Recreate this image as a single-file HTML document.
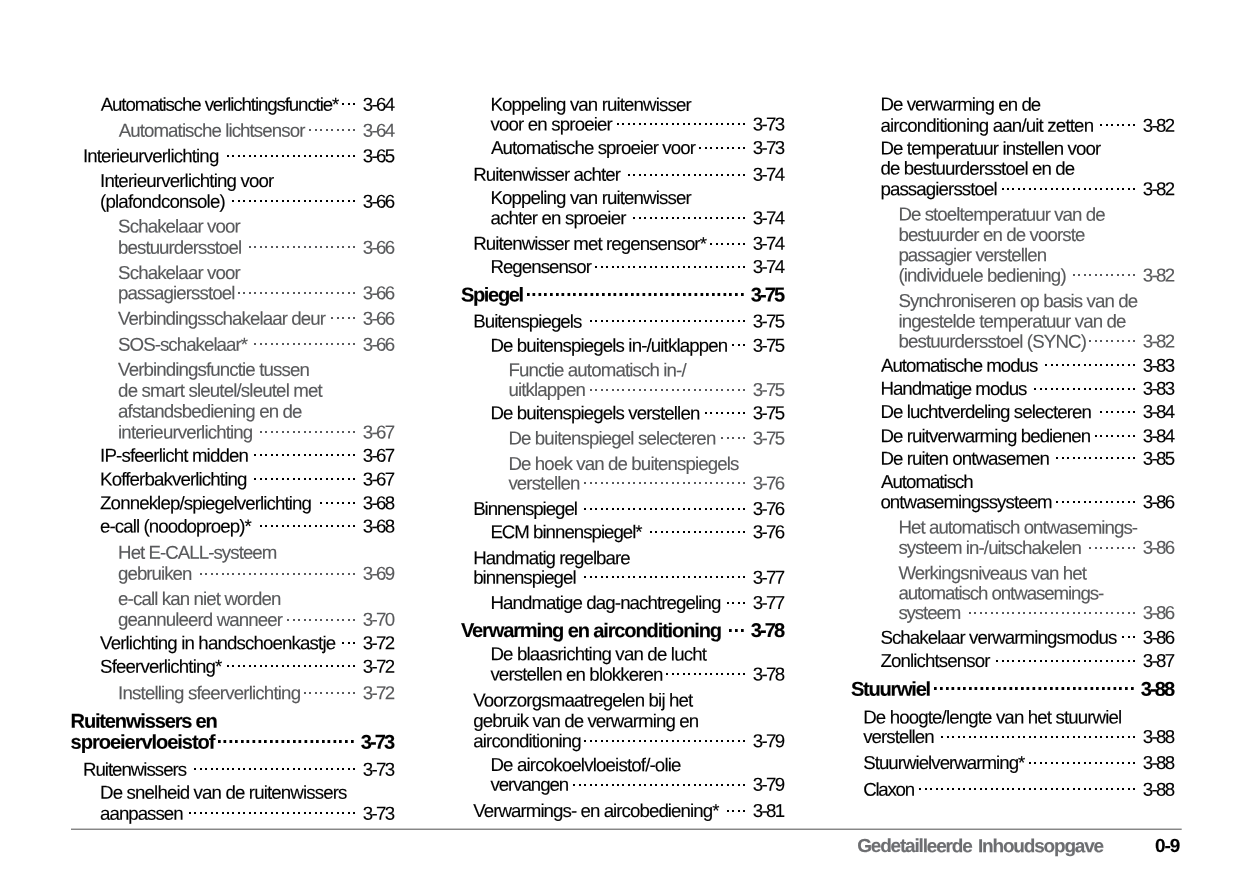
<!DOCTYPE html>
<html><head><meta charset="utf-8"><title>Gedetailleerde Inhoudsopgave</title>
<style>
html,body{margin:0;padding:0;background:#fff;}
body{width:1241px;height:886px;overflow:hidden;}
svg{display:block;font-family:"Liberation Sans",sans-serif;will-change:transform;}
text{white-space:pre;stroke-width:0.12px;paint-order:stroke fill;}
</style></head><body>
<svg width="1241" height="886" viewBox="0 0 1241 886">
<text transform="matrix(1 0.0005 0 1 0 -0.0503)" x="100.70" y="110.75" font-size="18.7" letter-spacing="-1.113" fill="#000000" stroke="#000000">Automatische verlichtingsfunctie*</text>
<text transform="matrix(1 0.0005 0 1 0 -0.1814)" x="362.80" y="110.75" font-size="18.7" letter-spacing="-1.667" fill="#000000" stroke="#000000">3-64</text>
<path d="M353 103h2v2h-2zM348 103h2v2h-2zM342 103h2v2h-2z" fill="#000000"/>
<text transform="matrix(1 0.0005 0 1 0 -0.0593)" x="118.70" y="136.75" font-size="18.7" letter-spacing="-0.915" fill="#58595b" stroke="#58595b">Automatische lichtsensor</text>
<text transform="matrix(1 0.0005 0 1 0 -0.1814)" x="362.80" y="136.75" font-size="18.7" letter-spacing="-1.667" fill="#58595b" stroke="#58595b">3-64</text>
<path d="M353 129h2v2h-2zM348 129h2v2h-2zM342 129h2v2h-2zM337 129h2v2h-2zM331 129h2v2h-2zM326 129h2v2h-2zM320 129h2v2h-2zM315 129h2v2h-2zM309 129h2v2h-2z" fill="#58595b"/>
<text transform="matrix(1 0.0005 0 1 0 -0.0415)" x="82.90" y="162.25" font-size="18.7" letter-spacing="-0.857" fill="#000000" stroke="#000000">Interieurverlichting</text>
<text transform="matrix(1 0.0005 0 1 0 -0.1814)" x="362.80" y="162.25" font-size="18.7" letter-spacing="-1.667" fill="#000000" stroke="#000000">3-65</text>
<path d="M353 155h2v2h-2zM348 155h2v2h-2zM342 155h2v2h-2zM337 155h2v2h-2zM331 155h2v2h-2zM326 155h2v2h-2zM320 155h2v2h-2zM315 155h2v2h-2zM309 155h2v2h-2zM304 155h2v2h-2zM298 155h2v2h-2zM293 155h2v2h-2zM287 155h2v2h-2zM282 155h2v2h-2zM276 155h2v2h-2zM271 155h2v2h-2zM265 155h2v2h-2zM260 155h2v2h-2zM254 155h2v2h-2zM249 155h2v2h-2zM243 155h2v2h-2zM238 155h2v2h-2zM232 155h2v2h-2zM227 155h2v2h-2z" fill="#000000"/>
<text transform="matrix(1 0.0005 0 1 0 -0.0500)" x="100.10" y="186.90" font-size="18.7" letter-spacing="-0.833" fill="#000000" stroke="#000000">Interieurverlichting voor</text>
<text transform="matrix(1 0.0005 0 1 0 -0.0500)" x="100.10" y="207.75" font-size="18.7" letter-spacing="-0.839" fill="#000000" stroke="#000000">(plafondconsole)</text>
<text transform="matrix(1 0.0005 0 1 0 -0.1814)" x="362.80" y="207.75" font-size="18.7" letter-spacing="-1.667" fill="#000000" stroke="#000000">3-66</text>
<path d="M353 200h2v2h-2zM348 200h2v2h-2zM342 200h2v2h-2zM337 200h2v2h-2zM331 200h2v2h-2zM326 200h2v2h-2zM320 200h2v2h-2zM315 200h2v2h-2zM309 200h2v2h-2zM304 200h2v2h-2zM298 200h2v2h-2zM293 200h2v2h-2zM287 200h2v2h-2zM282 200h2v2h-2zM276 200h2v2h-2zM271 200h2v2h-2zM265 200h2v2h-2zM260 200h2v2h-2zM254 200h2v2h-2zM249 200h2v2h-2zM243 200h2v2h-2zM238 200h2v2h-2zM232 200h2v2h-2z" fill="#000000"/>
<text transform="matrix(1 0.0005 0 1 0 -0.0590)" x="118.10" y="232.55" font-size="18.7" letter-spacing="-0.886" fill="#58595b" stroke="#58595b">Schakelaar voor</text>
<text transform="matrix(1 0.0005 0 1 0 -0.0590)" x="118.10" y="253.65" font-size="18.7" letter-spacing="-0.939" fill="#58595b" stroke="#58595b">bestuurdersstoel</text>
<text transform="matrix(1 0.0005 0 1 0 -0.1814)" x="362.80" y="253.65" font-size="18.7" letter-spacing="-1.667" fill="#58595b" stroke="#58595b">3-66</text>
<path d="M353 246h2v2h-2zM348 246h2v2h-2zM342 246h2v2h-2zM337 246h2v2h-2zM331 246h2v2h-2zM326 246h2v2h-2zM320 246h2v2h-2zM315 246h2v2h-2zM309 246h2v2h-2zM304 246h2v2h-2zM298 246h2v2h-2zM293 246h2v2h-2zM287 246h2v2h-2zM282 246h2v2h-2zM276 246h2v2h-2zM271 246h2v2h-2zM265 246h2v2h-2zM260 246h2v2h-2zM254 246h2v2h-2zM249 246h2v2h-2z" fill="#58595b"/>
<text transform="matrix(1 0.0005 0 1 0 -0.0590)" x="118.10" y="278.95" font-size="18.7" letter-spacing="-0.886" fill="#58595b" stroke="#58595b">Schakelaar voor</text>
<text transform="matrix(1 0.0005 0 1 0 -0.0590)" x="118.10" y="299.25" font-size="18.7" letter-spacing="-0.890" fill="#58595b" stroke="#58595b">passagiersstoel</text>
<text transform="matrix(1 0.0005 0 1 0 -0.1814)" x="362.80" y="299.25" font-size="18.7" letter-spacing="-1.667" fill="#58595b" stroke="#58595b">3-66</text>
<path d="M353 292h2v2h-2zM348 292h2v2h-2zM342 292h2v2h-2zM337 292h2v2h-2zM331 292h2v2h-2zM326 292h2v2h-2zM320 292h2v2h-2zM315 292h2v2h-2zM309 292h2v2h-2zM304 292h2v2h-2zM298 292h2v2h-2zM293 292h2v2h-2zM287 292h2v2h-2zM282 292h2v2h-2zM276 292h2v2h-2zM271 292h2v2h-2zM265 292h2v2h-2zM260 292h2v2h-2zM254 292h2v2h-2zM249 292h2v2h-2zM243 292h2v2h-2zM238 292h2v2h-2z" fill="#58595b"/>
<text transform="matrix(1 0.0005 0 1 0 -0.0590)" x="118.10" y="324.75" font-size="18.7" letter-spacing="-0.910" fill="#58595b" stroke="#58595b">Verbindingsschakelaar deur</text>
<text transform="matrix(1 0.0005 0 1 0 -0.1814)" x="362.80" y="324.75" font-size="18.7" letter-spacing="-1.667" fill="#58595b" stroke="#58595b">3-66</text>
<path d="M353 317h2v2h-2zM348 317h2v2h-2zM342 317h2v2h-2zM337 317h2v2h-2zM331 317h2v2h-2z" fill="#58595b"/>
<text transform="matrix(1 0.0005 0 1 0 -0.0590)" x="118.10" y="350.70" font-size="18.7" letter-spacing="-0.959" fill="#58595b" stroke="#58595b">SOS-schakelaar*</text>
<text transform="matrix(1 0.0005 0 1 0 -0.1814)" x="362.80" y="350.70" font-size="18.7" letter-spacing="-1.667" fill="#58595b" stroke="#58595b">3-66</text>
<path d="M353 343h2v2h-2zM348 343h2v2h-2zM342 343h2v2h-2zM337 343h2v2h-2zM331 343h2v2h-2zM326 343h2v2h-2zM320 343h2v2h-2zM315 343h2v2h-2zM309 343h2v2h-2zM304 343h2v2h-2zM298 343h2v2h-2zM293 343h2v2h-2zM287 343h2v2h-2zM282 343h2v2h-2zM276 343h2v2h-2zM271 343h2v2h-2zM265 343h2v2h-2zM260 343h2v2h-2zM254 343h2v2h-2z" fill="#58595b"/>
<text transform="matrix(1 0.0005 0 1 0 -0.0590)" x="118.10" y="375.80" font-size="18.7" letter-spacing="-0.887" fill="#58595b" stroke="#58595b">Verbindingsfunctie tussen</text>
<text transform="matrix(1 0.0005 0 1 0 -0.0590)" x="118.10" y="396.70" font-size="18.7" letter-spacing="-0.844" fill="#58595b" stroke="#58595b">de smart sleutel/sleutel met</text>
<text transform="matrix(1 0.0005 0 1 0 -0.0590)" x="118.10" y="417.55" font-size="18.7" letter-spacing="-0.879" fill="#58595b" stroke="#58595b">afstandsbediening en de</text>
<text transform="matrix(1 0.0005 0 1 0 -0.0590)" x="118.10" y="438.40" font-size="18.7" letter-spacing="-0.871" fill="#58595b" stroke="#58595b">interieurverlichting</text>
<text transform="matrix(1 0.0005 0 1 0 -0.1814)" x="362.80" y="438.40" font-size="18.7" letter-spacing="-1.667" fill="#58595b" stroke="#58595b">3-67</text>
<path d="M353 431h2v2h-2zM348 431h2v2h-2zM342 431h2v2h-2zM337 431h2v2h-2zM331 431h2v2h-2zM326 431h2v2h-2zM320 431h2v2h-2zM315 431h2v2h-2zM309 431h2v2h-2zM304 431h2v2h-2zM298 431h2v2h-2zM293 431h2v2h-2zM287 431h2v2h-2zM282 431h2v2h-2zM276 431h2v2h-2zM271 431h2v2h-2zM265 431h2v2h-2zM260 431h2v2h-2z" fill="#58595b"/>
<text transform="matrix(1 0.0005 0 1 0 -0.0500)" x="100.10" y="461.70" font-size="18.7" letter-spacing="-0.859" fill="#000000" stroke="#000000">IP-sfeerlicht midden</text>
<text transform="matrix(1 0.0005 0 1 0 -0.1814)" x="362.80" y="461.70" font-size="18.7" letter-spacing="-1.667" fill="#000000" stroke="#000000">3-67</text>
<path d="M353 454h2v2h-2zM348 454h2v2h-2zM342 454h2v2h-2zM337 454h2v2h-2zM331 454h2v2h-2zM326 454h2v2h-2zM320 454h2v2h-2zM315 454h2v2h-2zM309 454h2v2h-2zM304 454h2v2h-2zM298 454h2v2h-2zM293 454h2v2h-2zM287 454h2v2h-2zM282 454h2v2h-2zM276 454h2v2h-2zM271 454h2v2h-2zM265 454h2v2h-2zM260 454h2v2h-2zM254 454h2v2h-2z" fill="#000000"/>
<text transform="matrix(1 0.0005 0 1 0 -0.0500)" x="100.10" y="485.55" font-size="18.7" letter-spacing="-0.869" fill="#000000" stroke="#000000">Kofferbakverlichting</text>
<text transform="matrix(1 0.0005 0 1 0 -0.1814)" x="362.80" y="485.55" font-size="18.7" letter-spacing="-1.667" fill="#000000" stroke="#000000">3-67</text>
<path d="M353 478h2v2h-2zM348 478h2v2h-2zM342 478h2v2h-2zM337 478h2v2h-2zM331 478h2v2h-2zM326 478h2v2h-2zM320 478h2v2h-2zM315 478h2v2h-2zM309 478h2v2h-2zM304 478h2v2h-2zM298 478h2v2h-2zM293 478h2v2h-2zM287 478h2v2h-2zM282 478h2v2h-2zM276 478h2v2h-2zM271 478h2v2h-2zM265 478h2v2h-2zM260 478h2v2h-2zM254 478h2v2h-2z" fill="#000000"/>
<text transform="matrix(1 0.0005 0 1 0 -0.0500)" x="100.10" y="509.35" font-size="18.7" letter-spacing="-0.885" fill="#000000" stroke="#000000">Zonneklep/spiegelverlichting</text>
<text transform="matrix(1 0.0005 0 1 0 -0.1814)" x="362.80" y="509.35" font-size="18.7" letter-spacing="-1.667" fill="#000000" stroke="#000000">3-68</text>
<path d="M353 502h2v2h-2zM348 502h2v2h-2zM342 502h2v2h-2zM337 502h2v2h-2zM331 502h2v2h-2zM326 502h2v2h-2zM320 502h2v2h-2z" fill="#000000"/>
<text transform="matrix(1 0.0005 0 1 0 -0.0500)" x="100.10" y="532.55" font-size="18.7" letter-spacing="-0.927" fill="#000000" stroke="#000000">e-call (noodoproep)*</text>
<text transform="matrix(1 0.0005 0 1 0 -0.1814)" x="362.80" y="532.55" font-size="18.7" letter-spacing="-1.667" fill="#000000" stroke="#000000">3-68</text>
<path d="M353 525h2v2h-2zM348 525h2v2h-2zM342 525h2v2h-2zM337 525h2v2h-2zM331 525h2v2h-2zM326 525h2v2h-2zM320 525h2v2h-2zM315 525h2v2h-2zM309 525h2v2h-2zM304 525h2v2h-2zM298 525h2v2h-2zM293 525h2v2h-2zM287 525h2v2h-2zM282 525h2v2h-2zM276 525h2v2h-2zM271 525h2v2h-2zM265 525h2v2h-2zM260 525h2v2h-2z" fill="#000000"/>
<text transform="matrix(1 0.0005 0 1 0 -0.0590)" x="118.10" y="558.65" font-size="18.7" letter-spacing="-0.958" fill="#58595b" stroke="#58595b">Het E-CALL-systeem</text>
<text transform="matrix(1 0.0005 0 1 0 -0.0590)" x="118.10" y="579.85" font-size="18.7" letter-spacing="-0.974" fill="#58595b" stroke="#58595b">gebruiken</text>
<text transform="matrix(1 0.0005 0 1 0 -0.1814)" x="362.80" y="579.85" font-size="18.7" letter-spacing="-1.667" fill="#58595b" stroke="#58595b">3-69</text>
<path d="M353 573h2v2h-2zM348 573h2v2h-2zM342 573h2v2h-2zM337 573h2v2h-2zM331 573h2v2h-2zM326 573h2v2h-2zM320 573h2v2h-2zM315 573h2v2h-2zM309 573h2v2h-2zM304 573h2v2h-2zM298 573h2v2h-2zM293 573h2v2h-2zM287 573h2v2h-2zM282 573h2v2h-2zM276 573h2v2h-2zM271 573h2v2h-2zM265 573h2v2h-2zM260 573h2v2h-2zM254 573h2v2h-2zM249 573h2v2h-2zM243 573h2v2h-2zM238 573h2v2h-2zM232 573h2v2h-2zM227 573h2v2h-2zM222 573h2v2h-2zM216 573h2v2h-2zM211 573h2v2h-2zM205 573h2v2h-2zM200 573h2v2h-2z" fill="#58595b"/>
<text transform="matrix(1 0.0005 0 1 0 -0.0590)" x="118.10" y="605.05" font-size="18.7" letter-spacing="-0.883" fill="#58595b" stroke="#58595b">e-call kan niet worden</text>
<text transform="matrix(1 0.0005 0 1 0 -0.0590)" x="118.10" y="625.85" font-size="18.7" letter-spacing="-0.879" fill="#58595b" stroke="#58595b">geannuleerd wanneer</text>
<text transform="matrix(1 0.0005 0 1 0 -0.1814)" x="362.80" y="625.85" font-size="18.7" letter-spacing="-1.667" fill="#58595b" stroke="#58595b">3-70</text>
<path d="M353 619h2v2h-2zM348 619h2v2h-2zM342 619h2v2h-2zM337 619h2v2h-2zM331 619h2v2h-2zM326 619h2v2h-2zM320 619h2v2h-2zM315 619h2v2h-2zM309 619h2v2h-2zM304 619h2v2h-2zM298 619h2v2h-2zM293 619h2v2h-2zM287 619h2v2h-2z" fill="#58595b"/>
<text transform="matrix(1 0.0005 0 1 0 -0.0500)" x="100.10" y="649.15" font-size="18.7" letter-spacing="-0.860" fill="#000000" stroke="#000000">Verlichting in handschoenkastje</text>
<text transform="matrix(1 0.0005 0 1 0 -0.1814)" x="362.80" y="649.15" font-size="18.7" letter-spacing="-1.667" fill="#000000" stroke="#000000">3-72</text>
<path d="M353 642h2v2h-2zM348 642h2v2h-2zM342 642h2v2h-2z" fill="#000000"/>
<text transform="matrix(1 0.0005 0 1 0 -0.0500)" x="100.10" y="672.65" font-size="18.7" letter-spacing="-0.871" fill="#000000" stroke="#000000">Sfeerverlichting*</text>
<text transform="matrix(1 0.0005 0 1 0 -0.1814)" x="362.80" y="672.65" font-size="18.7" letter-spacing="-1.667" fill="#000000" stroke="#000000">3-72</text>
<path d="M353 665h2v2h-2zM348 665h2v2h-2zM342 665h2v2h-2zM337 665h2v2h-2zM331 665h2v2h-2zM326 665h2v2h-2zM320 665h2v2h-2zM315 665h2v2h-2zM309 665h2v2h-2zM304 665h2v2h-2zM298 665h2v2h-2zM293 665h2v2h-2zM287 665h2v2h-2zM282 665h2v2h-2zM276 665h2v2h-2zM271 665h2v2h-2zM265 665h2v2h-2zM260 665h2v2h-2zM254 665h2v2h-2zM249 665h2v2h-2zM243 665h2v2h-2zM238 665h2v2h-2zM232 665h2v2h-2zM227 665h2v2h-2z" fill="#000000"/>
<text transform="matrix(1 0.0005 0 1 0 -0.0590)" x="118.10" y="699.25" font-size="18.7" letter-spacing="-0.833" fill="#58595b" stroke="#58595b">Instelling sfeerverlichting</text>
<text transform="matrix(1 0.0005 0 1 0 -0.1814)" x="362.80" y="699.25" font-size="18.7" letter-spacing="-1.667" fill="#58595b" stroke="#58595b">3-72</text>
<path d="M353 692h2v2h-2zM348 692h2v2h-2zM342 692h2v2h-2zM337 692h2v2h-2zM331 692h2v2h-2zM326 692h2v2h-2zM320 692h2v2h-2zM315 692h2v2h-2zM309 692h2v2h-2zM304 692h2v2h-2z" fill="#58595b"/>
<text transform="matrix(1 0.0005 0 1 0 -0.0353)" x="70.60" y="727.75" font-size="20.1" letter-spacing="-1.201" fill="#000000" stroke="#000000" font-weight="bold">Ruitenwissers en</text>
<text transform="matrix(1 0.0005 0 1 0 -0.0353)" x="70.60" y="748.70" font-size="20.1" letter-spacing="-1.063" fill="#000000" stroke="#000000" font-weight="bold">sproeiervloeistof</text>
<text transform="matrix(1 0.0005 0 1 0 -0.1804)" x="360.75" y="748.70" font-size="20.1" letter-spacing="-1.967" fill="#000000" stroke="#000000" font-weight="bold">3-73</text>
<path d="M351 740h2.7v3h-2.7zM345 740h2.7v3h-2.7zM339 740h2.7v3h-2.7zM333.5 740h2.7v3h-2.7zM327.5 740h2.7v3h-2.7zM322 740h2.7v3h-2.7zM316 740h2.7v3h-2.7zM310.5 740h2.7v3h-2.7zM304.5 740h2.7v3h-2.7zM298.5 740h2.7v3h-2.7zM293 740h2.7v3h-2.7zM287 740h2.7v3h-2.7zM281.5 740h2.7v3h-2.7zM275.5 740h2.7v3h-2.7zM270 740h2.7v3h-2.7zM264 740h2.7v3h-2.7zM258.5 740h2.7v3h-2.7zM252.5 740h2.7v3h-2.7zM246.5 740h2.7v3h-2.7zM241 740h2.7v3h-2.7zM235 740h2.7v3h-2.7zM229.5 740h2.7v3h-2.7zM223.5 740h2.7v3h-2.7zM218 740h2.7v3h-2.7z" fill="#000000"/>
<text transform="matrix(1 0.0005 0 1 0 -0.0415)" x="82.90" y="775.65" font-size="18.7" letter-spacing="-1.009" fill="#000000" stroke="#000000">Ruitenwissers</text>
<text transform="matrix(1 0.0005 0 1 0 -0.1814)" x="362.80" y="775.65" font-size="18.7" letter-spacing="-1.667" fill="#000000" stroke="#000000">3-73</text>
<path d="M353 768h2v2h-2zM348 768h2v2h-2zM342 768h2v2h-2zM337 768h2v2h-2zM331 768h2v2h-2zM326 768h2v2h-2zM320 768h2v2h-2zM315 768h2v2h-2zM309 768h2v2h-2zM304 768h2v2h-2zM298 768h2v2h-2zM293 768h2v2h-2zM287 768h2v2h-2zM282 768h2v2h-2zM276 768h2v2h-2zM271 768h2v2h-2zM265 768h2v2h-2zM260 768h2v2h-2zM254 768h2v2h-2zM249 768h2v2h-2zM243 768h2v2h-2zM238 768h2v2h-2zM232 768h2v2h-2zM227 768h2v2h-2zM222 768h2v2h-2zM216 768h2v2h-2zM211 768h2v2h-2zM205 768h2v2h-2zM200 768h2v2h-2zM194 768h2v2h-2z" fill="#000000"/>
<text transform="matrix(1 0.0005 0 1 0 -0.0500)" x="100.10" y="798.75" font-size="18.7" letter-spacing="-0.868" fill="#000000" stroke="#000000">De snelheid van de ruitenwissers</text>
<text transform="matrix(1 0.0005 0 1 0 -0.0500)" x="100.10" y="819.65" font-size="18.7" letter-spacing="-0.992" fill="#000000" stroke="#000000">aanpassen</text>
<text transform="matrix(1 0.0005 0 1 0 -0.1814)" x="362.80" y="819.65" font-size="18.7" letter-spacing="-1.667" fill="#000000" stroke="#000000">3-73</text>
<path d="M353 812h2v2h-2zM348 812h2v2h-2zM342 812h2v2h-2zM337 812h2v2h-2zM331 812h2v2h-2zM326 812h2v2h-2zM320 812h2v2h-2zM315 812h2v2h-2zM309 812h2v2h-2zM304 812h2v2h-2zM298 812h2v2h-2zM293 812h2v2h-2zM287 812h2v2h-2zM282 812h2v2h-2zM276 812h2v2h-2zM271 812h2v2h-2zM265 812h2v2h-2zM260 812h2v2h-2zM254 812h2v2h-2zM249 812h2v2h-2zM243 812h2v2h-2zM238 812h2v2h-2zM232 812h2v2h-2zM227 812h2v2h-2zM222 812h2v2h-2zM216 812h2v2h-2zM211 812h2v2h-2zM205 812h2v2h-2zM200 812h2v2h-2zM194 812h2v2h-2zM189 812h2v2h-2z" fill="#000000"/>
<text transform="matrix(1 0.0005 0 1 0 -0.2452)" x="490.40" y="110.80" font-size="18.7" letter-spacing="-0.883" fill="#000000" stroke="#000000">Koppeling van ruitenwisser</text>
<text transform="matrix(1 0.0005 0 1 0 -0.2452)" x="490.40" y="130.55" font-size="18.7" letter-spacing="-0.840" fill="#000000" stroke="#000000">voor en sproeier</text>
<text transform="matrix(1 0.0005 0 1 0 -0.3764)" x="752.80" y="130.55" font-size="18.7" letter-spacing="-1.667" fill="#000000" stroke="#000000">3-73</text>
<path d="M743 123h2v2h-2zM738 123h2v2h-2zM732 123h2v2h-2zM727 123h2v2h-2zM721 123h2v2h-2zM716 123h2v2h-2zM710 123h2v2h-2zM705 123h2v2h-2zM699 123h2v2h-2zM694 123h2v2h-2zM688 123h2v2h-2zM683 123h2v2h-2zM677 123h2v2h-2zM672 123h2v2h-2zM666 123h2v2h-2zM661 123h2v2h-2zM655 123h2v2h-2zM650 123h2v2h-2zM644 123h2v2h-2zM639 123h2v2h-2zM633 123h2v2h-2zM628 123h2v2h-2zM622 123h2v2h-2zM617 123h2v2h-2z" fill="#000000"/>
<text transform="matrix(1 0.0005 0 1 0 -0.2455)" x="491.00" y="153.90" font-size="18.7" letter-spacing="-0.903" fill="#000000" stroke="#000000">Automatische sproeier voor</text>
<text transform="matrix(1 0.0005 0 1 0 -0.3764)" x="752.80" y="153.90" font-size="18.7" letter-spacing="-1.667" fill="#000000" stroke="#000000">3-73</text>
<path d="M743 147h2v2h-2zM738 147h2v2h-2zM732 147h2v2h-2zM727 147h2v2h-2zM721 147h2v2h-2zM716 147h2v2h-2zM710 147h2v2h-2zM705 147h2v2h-2zM699 147h2v2h-2z" fill="#000000"/>
<text transform="matrix(1 0.0005 0 1 0 -0.2366)" x="473.20" y="180.80" font-size="18.7" letter-spacing="-0.910" fill="#000000" stroke="#000000">Ruitenwisser achter</text>
<text transform="matrix(1 0.0005 0 1 0 -0.3764)" x="752.80" y="180.80" font-size="18.7" letter-spacing="-1.667" fill="#000000" stroke="#000000">3-74</text>
<path d="M743 174h2v2h-2zM738 174h2v2h-2zM732 174h2v2h-2zM727 174h2v2h-2zM721 174h2v2h-2zM716 174h2v2h-2zM710 174h2v2h-2zM705 174h2v2h-2zM699 174h2v2h-2zM694 174h2v2h-2zM688 174h2v2h-2zM683 174h2v2h-2zM677 174h2v2h-2zM672 174h2v2h-2zM666 174h2v2h-2zM661 174h2v2h-2zM655 174h2v2h-2zM650 174h2v2h-2zM644 174h2v2h-2zM639 174h2v2h-2zM633 174h2v2h-2zM628 174h2v2h-2z" fill="#000000"/>
<text transform="matrix(1 0.0005 0 1 0 -0.2452)" x="490.40" y="203.95" font-size="18.7" letter-spacing="-0.883" fill="#000000" stroke="#000000">Koppeling van ruitenwisser</text>
<text transform="matrix(1 0.0005 0 1 0 -0.2452)" x="490.40" y="224.25" font-size="18.7" letter-spacing="-0.860" fill="#000000" stroke="#000000">achter en sproeier</text>
<text transform="matrix(1 0.0005 0 1 0 -0.3764)" x="752.80" y="224.25" font-size="18.7" letter-spacing="-1.667" fill="#000000" stroke="#000000">3-74</text>
<path d="M743 217h2v2h-2zM738 217h2v2h-2zM732 217h2v2h-2zM727 217h2v2h-2zM721 217h2v2h-2zM716 217h2v2h-2zM710 217h2v2h-2zM705 217h2v2h-2zM699 217h2v2h-2zM694 217h2v2h-2zM688 217h2v2h-2zM683 217h2v2h-2zM677 217h2v2h-2zM672 217h2v2h-2zM666 217h2v2h-2zM661 217h2v2h-2zM655 217h2v2h-2zM650 217h2v2h-2zM644 217h2v2h-2zM639 217h2v2h-2zM633 217h2v2h-2z" fill="#000000"/>
<text transform="matrix(1 0.0005 0 1 0 -0.2366)" x="473.20" y="249.85" font-size="18.7" letter-spacing="-0.926" fill="#000000" stroke="#000000">Ruitenwisser met regensensor*</text>
<text transform="matrix(1 0.0005 0 1 0 -0.3764)" x="752.80" y="249.85" font-size="18.7" letter-spacing="-1.667" fill="#000000" stroke="#000000">3-74</text>
<path d="M743 243h2v2h-2zM738 243h2v2h-2zM732 243h2v2h-2zM727 243h2v2h-2zM721 243h2v2h-2zM716 243h2v2h-2zM710 243h2v2h-2z" fill="#000000"/>
<text transform="matrix(1 0.0005 0 1 0 -0.2452)" x="490.40" y="273.05" font-size="18.7" letter-spacing="-0.966" fill="#000000" stroke="#000000">Regensensor</text>
<text transform="matrix(1 0.0005 0 1 0 -0.3764)" x="752.80" y="273.05" font-size="18.7" letter-spacing="-1.667" fill="#000000" stroke="#000000">3-74</text>
<path d="M743 266h2v2h-2zM738 266h2v2h-2zM732 266h2v2h-2zM727 266h2v2h-2zM721 266h2v2h-2zM716 266h2v2h-2zM710 266h2v2h-2zM705 266h2v2h-2zM699 266h2v2h-2zM694 266h2v2h-2zM688 266h2v2h-2zM683 266h2v2h-2zM677 266h2v2h-2zM672 266h2v2h-2zM666 266h2v2h-2zM661 266h2v2h-2zM655 266h2v2h-2zM650 266h2v2h-2zM644 266h2v2h-2zM639 266h2v2h-2zM633 266h2v2h-2zM628 266h2v2h-2zM622 266h2v2h-2zM617 266h2v2h-2zM612 266h2v2h-2zM606 266h2v2h-2zM601 266h2v2h-2zM595 266h2v2h-2z" fill="#000000"/>
<text transform="matrix(1 0.0005 0 1 0 -0.2304)" x="460.90" y="301.40" font-size="20.1" letter-spacing="-1.359" fill="#000000" stroke="#000000" font-weight="bold">Spiegel</text>
<text transform="matrix(1 0.0005 0 1 0 -0.3754)" x="750.75" y="301.40" font-size="20.1" letter-spacing="-1.967" fill="#000000" stroke="#000000" font-weight="bold">3-75</text>
<path d="M741 293h2.7v3h-2.7zM735 293h2.7v3h-2.7zM729 293h2.7v3h-2.7zM723.5 293h2.7v3h-2.7zM717.5 293h2.7v3h-2.7zM712 293h2.7v3h-2.7zM706 293h2.7v3h-2.7zM700.5 293h2.7v3h-2.7zM694.5 293h2.7v3h-2.7zM688.5 293h2.7v3h-2.7zM683 293h2.7v3h-2.7zM677 293h2.7v3h-2.7zM671.5 293h2.7v3h-2.7zM665.5 293h2.7v3h-2.7zM660 293h2.7v3h-2.7zM654 293h2.7v3h-2.7zM648.5 293h2.7v3h-2.7zM642.5 293h2.7v3h-2.7zM636.5 293h2.7v3h-2.7zM631 293h2.7v3h-2.7zM625 293h2.7v3h-2.7zM619.5 293h2.7v3h-2.7zM613.5 293h2.7v3h-2.7zM608 293h2.7v3h-2.7zM602 293h2.7v3h-2.7zM596 293h2.7v3h-2.7zM590.5 293h2.7v3h-2.7zM584.5 293h2.7v3h-2.7zM579 293h2.7v3h-2.7zM573 293h2.7v3h-2.7zM567.5 293h2.7v3h-2.7zM561.5 293h2.7v3h-2.7zM556 293h2.7v3h-2.7zM550 293h2.7v3h-2.7zM544 293h2.7v3h-2.7zM538.5 293h2.7v3h-2.7zM532.5 293h2.7v3h-2.7zM527 293h2.7v3h-2.7z" fill="#000000"/>
<text transform="matrix(1 0.0005 0 1 0 -0.2366)" x="473.20" y="327.60" font-size="18.7" letter-spacing="-0.957" fill="#000000" stroke="#000000">Buitenspiegels</text>
<text transform="matrix(1 0.0005 0 1 0 -0.3764)" x="752.80" y="327.60" font-size="18.7" letter-spacing="-1.667" fill="#000000" stroke="#000000">3-75</text>
<path d="M743 320h2v2h-2zM738 320h2v2h-2zM732 320h2v2h-2zM727 320h2v2h-2zM721 320h2v2h-2zM716 320h2v2h-2zM710 320h2v2h-2zM705 320h2v2h-2zM699 320h2v2h-2zM694 320h2v2h-2zM688 320h2v2h-2zM683 320h2v2h-2zM677 320h2v2h-2zM672 320h2v2h-2zM666 320h2v2h-2zM661 320h2v2h-2zM655 320h2v2h-2zM650 320h2v2h-2zM644 320h2v2h-2zM639 320h2v2h-2zM633 320h2v2h-2zM628 320h2v2h-2zM622 320h2v2h-2zM617 320h2v2h-2zM612 320h2v2h-2zM606 320h2v2h-2zM601 320h2v2h-2zM595 320h2v2h-2zM590 320h2v2h-2z" fill="#000000"/>
<text transform="matrix(1 0.0005 0 1 0 -0.2452)" x="490.40" y="351.70" font-size="18.7" letter-spacing="-0.877" fill="#000000" stroke="#000000">De buitenspiegels in-/uitklappen</text>
<text transform="matrix(1 0.0005 0 1 0 -0.3764)" x="752.80" y="351.70" font-size="18.7" letter-spacing="-1.667" fill="#000000" stroke="#000000">3-75</text>
<path d="M743 344h2v2h-2zM738 344h2v2h-2zM732 344h2v2h-2z" fill="#000000"/>
<text transform="matrix(1 0.0005 0 1 0 -0.2542)" x="508.40" y="376.30" font-size="18.7" letter-spacing="-0.878" fill="#58595b" stroke="#58595b">Functie automatisch in-/</text>
<text transform="matrix(1 0.0005 0 1 0 -0.2542)" x="508.40" y="396.00" font-size="18.7" letter-spacing="-0.864" fill="#58595b" stroke="#58595b">uitklappen</text>
<text transform="matrix(1 0.0005 0 1 0 -0.3764)" x="752.80" y="396.00" font-size="18.7" letter-spacing="-1.667" fill="#58595b" stroke="#58595b">3-75</text>
<path d="M743 389h2v2h-2zM738 389h2v2h-2zM732 389h2v2h-2zM727 389h2v2h-2zM721 389h2v2h-2zM716 389h2v2h-2zM710 389h2v2h-2zM705 389h2v2h-2zM699 389h2v2h-2zM694 389h2v2h-2zM688 389h2v2h-2zM683 389h2v2h-2zM677 389h2v2h-2zM672 389h2v2h-2zM666 389h2v2h-2zM661 389h2v2h-2zM655 389h2v2h-2zM650 389h2v2h-2zM644 389h2v2h-2zM639 389h2v2h-2zM633 389h2v2h-2zM628 389h2v2h-2zM622 389h2v2h-2zM617 389h2v2h-2zM612 389h2v2h-2zM606 389h2v2h-2zM601 389h2v2h-2zM595 389h2v2h-2zM590 389h2v2h-2z" fill="#58595b"/>
<text transform="matrix(1 0.0005 0 1 0 -0.2452)" x="490.40" y="419.30" font-size="18.7" letter-spacing="-0.883" fill="#000000" stroke="#000000">De buitenspiegels verstellen</text>
<text transform="matrix(1 0.0005 0 1 0 -0.3764)" x="752.80" y="419.30" font-size="18.7" letter-spacing="-1.667" fill="#000000" stroke="#000000">3-75</text>
<path d="M743 412h2v2h-2zM738 412h2v2h-2zM732 412h2v2h-2zM727 412h2v2h-2zM721 412h2v2h-2zM716 412h2v2h-2zM710 412h2v2h-2zM705 412h2v2h-2z" fill="#000000"/>
<text transform="matrix(1 0.0005 0 1 0 -0.2542)" x="508.40" y="444.50" font-size="18.7" letter-spacing="-0.875" fill="#58595b" stroke="#58595b">De buitenspiegel selecteren</text>
<text transform="matrix(1 0.0005 0 1 0 -0.3764)" x="752.80" y="444.50" font-size="18.7" letter-spacing="-1.667" fill="#58595b" stroke="#58595b">3-75</text>
<path d="M743 437h2v2h-2zM738 437h2v2h-2zM732 437h2v2h-2zM727 437h2v2h-2zM721 437h2v2h-2z" fill="#58595b"/>
<text transform="matrix(1 0.0005 0 1 0 -0.2542)" x="508.40" y="470.00" font-size="18.7" letter-spacing="-0.876" fill="#58595b" stroke="#58595b">De hoek van de buitenspiegels</text>
<text transform="matrix(1 0.0005 0 1 0 -0.2542)" x="508.40" y="489.50" font-size="18.7" letter-spacing="-0.893" fill="#58595b" stroke="#58595b">verstellen</text>
<text transform="matrix(1 0.0005 0 1 0 -0.3764)" x="752.80" y="489.50" font-size="18.7" letter-spacing="-1.667" fill="#58595b" stroke="#58595b">3-76</text>
<path d="M743 482h2v2h-2zM738 482h2v2h-2zM732 482h2v2h-2zM727 482h2v2h-2zM721 482h2v2h-2zM716 482h2v2h-2zM710 482h2v2h-2zM705 482h2v2h-2zM699 482h2v2h-2zM694 482h2v2h-2zM688 482h2v2h-2zM683 482h2v2h-2zM677 482h2v2h-2zM672 482h2v2h-2zM666 482h2v2h-2zM661 482h2v2h-2zM655 482h2v2h-2zM650 482h2v2h-2zM644 482h2v2h-2zM639 482h2v2h-2zM633 482h2v2h-2zM628 482h2v2h-2zM622 482h2v2h-2zM617 482h2v2h-2zM612 482h2v2h-2zM606 482h2v2h-2zM601 482h2v2h-2zM595 482h2v2h-2zM590 482h2v2h-2zM584 482h2v2h-2z" fill="#58595b"/>
<text transform="matrix(1 0.0005 0 1 0 -0.2366)" x="473.20" y="515.00" font-size="18.7" letter-spacing="-1.061" fill="#000000" stroke="#000000">Binnenspiegel</text>
<text transform="matrix(1 0.0005 0 1 0 -0.3764)" x="752.80" y="515.00" font-size="18.7" letter-spacing="-1.667" fill="#000000" stroke="#000000">3-76</text>
<path d="M743 508h2v2h-2zM738 508h2v2h-2zM732 508h2v2h-2zM727 508h2v2h-2zM721 508h2v2h-2zM716 508h2v2h-2zM710 508h2v2h-2zM705 508h2v2h-2zM699 508h2v2h-2zM694 508h2v2h-2zM688 508h2v2h-2zM683 508h2v2h-2zM677 508h2v2h-2zM672 508h2v2h-2zM666 508h2v2h-2zM661 508h2v2h-2zM655 508h2v2h-2zM650 508h2v2h-2zM644 508h2v2h-2zM639 508h2v2h-2zM633 508h2v2h-2zM628 508h2v2h-2zM622 508h2v2h-2zM617 508h2v2h-2zM612 508h2v2h-2zM606 508h2v2h-2zM601 508h2v2h-2zM595 508h2v2h-2zM590 508h2v2h-2zM584 508h2v2h-2z" fill="#000000"/>
<text transform="matrix(1 0.0005 0 1 0 -0.2452)" x="490.40" y="538.20" font-size="18.7" letter-spacing="-1.007" fill="#000000" stroke="#000000">ECM binnenspiegel*</text>
<text transform="matrix(1 0.0005 0 1 0 -0.3764)" x="752.80" y="538.20" font-size="18.7" letter-spacing="-1.667" fill="#000000" stroke="#000000">3-76</text>
<path d="M743 531h2v2h-2zM738 531h2v2h-2zM732 531h2v2h-2zM727 531h2v2h-2zM721 531h2v2h-2zM716 531h2v2h-2zM710 531h2v2h-2zM705 531h2v2h-2zM699 531h2v2h-2zM694 531h2v2h-2zM688 531h2v2h-2zM683 531h2v2h-2zM677 531h2v2h-2zM672 531h2v2h-2zM666 531h2v2h-2zM661 531h2v2h-2zM655 531h2v2h-2zM650 531h2v2h-2z" fill="#000000"/>
<text transform="matrix(1 0.0005 0 1 0 -0.2366)" x="473.20" y="564.30" font-size="18.7" letter-spacing="-0.948" fill="#000000" stroke="#000000">Handmatig regelbare</text>
<text transform="matrix(1 0.0005 0 1 0 -0.2366)" x="473.20" y="583.70" font-size="18.7" letter-spacing="-0.998" fill="#000000" stroke="#000000">binnenspiegel</text>
<text transform="matrix(1 0.0005 0 1 0 -0.3764)" x="752.80" y="583.70" font-size="18.7" letter-spacing="-1.667" fill="#000000" stroke="#000000">3-77</text>
<path d="M743 576h2v2h-2zM738 576h2v2h-2zM732 576h2v2h-2zM727 576h2v2h-2zM721 576h2v2h-2zM716 576h2v2h-2zM710 576h2v2h-2zM705 576h2v2h-2zM699 576h2v2h-2zM694 576h2v2h-2zM688 576h2v2h-2zM683 576h2v2h-2zM677 576h2v2h-2zM672 576h2v2h-2zM666 576h2v2h-2zM661 576h2v2h-2zM655 576h2v2h-2zM650 576h2v2h-2zM644 576h2v2h-2zM639 576h2v2h-2zM633 576h2v2h-2zM628 576h2v2h-2zM622 576h2v2h-2zM617 576h2v2h-2zM612 576h2v2h-2zM606 576h2v2h-2zM601 576h2v2h-2zM595 576h2v2h-2zM590 576h2v2h-2zM584 576h2v2h-2z" fill="#000000"/>
<text transform="matrix(1 0.0005 0 1 0 -0.2452)" x="490.40" y="608.90" font-size="18.7" letter-spacing="-0.908" fill="#000000" stroke="#000000">Handmatige dag-nachtregeling</text>
<text transform="matrix(1 0.0005 0 1 0 -0.3764)" x="752.80" y="608.90" font-size="18.7" letter-spacing="-1.667" fill="#000000" stroke="#000000">3-77</text>
<path d="M743 602h2v2h-2zM738 602h2v2h-2zM732 602h2v2h-2zM727 602h2v2h-2z" fill="#000000"/>
<text transform="matrix(1 0.0005 0 1 0 -0.2304)" x="460.90" y="637.10" font-size="20.1" letter-spacing="-1.159" fill="#000000" stroke="#000000" font-weight="bold">Verwarming en airconditioning</text>
<text transform="matrix(1 0.0005 0 1 0 -0.3754)" x="750.75" y="637.10" font-size="20.1" letter-spacing="-1.967" fill="#000000" stroke="#000000" font-weight="bold">3-78</text>
<path d="M741 629h2.7v3h-2.7zM735 629h2.7v3h-2.7zM729 629h2.7v3h-2.7z" fill="#000000"/>
<text transform="matrix(1 0.0005 0 1 0 -0.2452)" x="490.40" y="660.30" font-size="18.7" letter-spacing="-0.836" fill="#000000" stroke="#000000">De blaasrichting van de lucht</text>
<text transform="matrix(1 0.0005 0 1 0 -0.2452)" x="490.40" y="680.60" font-size="18.7" letter-spacing="-0.870" fill="#000000" stroke="#000000">verstellen en blokkeren</text>
<text transform="matrix(1 0.0005 0 1 0 -0.3764)" x="752.80" y="680.60" font-size="18.7" letter-spacing="-1.667" fill="#000000" stroke="#000000">3-78</text>
<path d="M743 673h2v2h-2zM738 673h2v2h-2zM732 673h2v2h-2zM727 673h2v2h-2zM721 673h2v2h-2zM716 673h2v2h-2zM710 673h2v2h-2zM705 673h2v2h-2zM699 673h2v2h-2zM694 673h2v2h-2zM688 673h2v2h-2zM683 673h2v2h-2zM677 673h2v2h-2zM672 673h2v2h-2zM666 673h2v2h-2z" fill="#000000"/>
<text transform="matrix(1 0.0005 0 1 0 -0.2366)" x="473.20" y="706.50" font-size="18.7" letter-spacing="-0.851" fill="#000000" stroke="#000000">Voorzorgsmaatregelen bij het</text>
<text transform="matrix(1 0.0005 0 1 0 -0.2366)" x="473.20" y="727.10" font-size="18.7" letter-spacing="-0.903" fill="#000000" stroke="#000000">gebruik van de verwarming en</text>
<text transform="matrix(1 0.0005 0 1 0 -0.2366)" x="473.20" y="747.20" font-size="18.7" letter-spacing="-0.858" fill="#000000" stroke="#000000">airconditioning</text>
<text transform="matrix(1 0.0005 0 1 0 -0.3764)" x="752.80" y="747.20" font-size="18.7" letter-spacing="-1.667" fill="#000000" stroke="#000000">3-79</text>
<path d="M743 740h2v2h-2zM738 740h2v2h-2zM732 740h2v2h-2zM727 740h2v2h-2zM721 740h2v2h-2zM716 740h2v2h-2zM710 740h2v2h-2zM705 740h2v2h-2zM699 740h2v2h-2zM694 740h2v2h-2zM688 740h2v2h-2zM683 740h2v2h-2zM677 740h2v2h-2zM672 740h2v2h-2zM666 740h2v2h-2zM661 740h2v2h-2zM655 740h2v2h-2zM650 740h2v2h-2zM644 740h2v2h-2zM639 740h2v2h-2zM633 740h2v2h-2zM628 740h2v2h-2zM622 740h2v2h-2zM617 740h2v2h-2zM612 740h2v2h-2zM606 740h2v2h-2zM601 740h2v2h-2zM595 740h2v2h-2zM590 740h2v2h-2zM584 740h2v2h-2z" fill="#000000"/>
<text transform="matrix(1 0.0005 0 1 0 -0.2452)" x="490.40" y="771.10" font-size="18.7" letter-spacing="-0.842" fill="#000000" stroke="#000000">De aircokoelvloeistof/-olie</text>
<text transform="matrix(1 0.0005 0 1 0 -0.2452)" x="490.40" y="790.80" font-size="18.7" letter-spacing="-1.054" fill="#000000" stroke="#000000">vervangen</text>
<text transform="matrix(1 0.0005 0 1 0 -0.3764)" x="752.80" y="790.80" font-size="18.7" letter-spacing="-1.667" fill="#000000" stroke="#000000">3-79</text>
<path d="M743 784h2v2h-2zM738 784h2v2h-2zM732 784h2v2h-2zM727 784h2v2h-2zM721 784h2v2h-2zM716 784h2v2h-2zM710 784h2v2h-2zM705 784h2v2h-2zM699 784h2v2h-2zM694 784h2v2h-2zM688 784h2v2h-2zM683 784h2v2h-2zM677 784h2v2h-2zM672 784h2v2h-2zM666 784h2v2h-2zM661 784h2v2h-2zM655 784h2v2h-2zM650 784h2v2h-2zM644 784h2v2h-2zM639 784h2v2h-2zM633 784h2v2h-2zM628 784h2v2h-2zM622 784h2v2h-2zM617 784h2v2h-2zM612 784h2v2h-2zM606 784h2v2h-2zM601 784h2v2h-2zM595 784h2v2h-2zM590 784h2v2h-2zM584 784h2v2h-2zM579 784h2v2h-2zM573 784h2v2h-2z" fill="#000000"/>
<text transform="matrix(1 0.0005 0 1 0 -0.2366)" x="473.20" y="816.90" font-size="18.7" letter-spacing="-0.934" fill="#000000" stroke="#000000">Verwarmings- en aircobediening*</text>
<text transform="matrix(1 0.0005 0 1 0 -0.3764)" x="752.80" y="816.90" font-size="18.7" letter-spacing="-1.667" fill="#000000" stroke="#000000">3-81</text>
<path d="M743 810h2v2h-2zM738 810h2v2h-2zM732 810h2v2h-2zM727 810h2v2h-2z" fill="#000000"/>
<text transform="matrix(1 0.0005 0 1 0 -0.4402)" x="880.40" y="110.60" font-size="18.7" letter-spacing="-0.930" fill="#000000" stroke="#000000">De verwarming en de</text>
<text transform="matrix(1 0.0005 0 1 0 -0.4402)" x="880.40" y="131.70" font-size="18.7" letter-spacing="-0.836" fill="#000000" stroke="#000000">airconditioning aan/uit zetten</text>
<text transform="matrix(1 0.0005 0 1 0 -0.5714)" x="1142.80" y="131.70" font-size="18.7" letter-spacing="-1.667" fill="#000000" stroke="#000000">3-82</text>
<path d="M1133 124h2v2h-2zM1128 124h2v2h-2zM1122 124h2v2h-2zM1117 124h2v2h-2zM1111 124h2v2h-2zM1106 124h2v2h-2zM1100 124h2v2h-2z" fill="#000000"/>
<text transform="matrix(1 0.0005 0 1 0 -0.4402)" x="880.40" y="154.60" font-size="18.7" letter-spacing="-0.866" fill="#000000" stroke="#000000">De temperatuur instellen voor</text>
<text transform="matrix(1 0.0005 0 1 0 -0.4402)" x="880.40" y="174.60" font-size="18.7" letter-spacing="-0.886" fill="#000000" stroke="#000000">de bestuurdersstoel en de</text>
<text transform="matrix(1 0.0005 0 1 0 -0.4402)" x="880.40" y="195.20" font-size="18.7" letter-spacing="-0.890" fill="#000000" stroke="#000000">passagiersstoel</text>
<text transform="matrix(1 0.0005 0 1 0 -0.5714)" x="1142.80" y="195.20" font-size="18.7" letter-spacing="-1.667" fill="#000000" stroke="#000000">3-82</text>
<path d="M1133 188h2v2h-2zM1128 188h2v2h-2zM1122 188h2v2h-2zM1117 188h2v2h-2zM1111 188h2v2h-2zM1106 188h2v2h-2zM1100 188h2v2h-2zM1095 188h2v2h-2zM1089 188h2v2h-2zM1084 188h2v2h-2zM1078 188h2v2h-2zM1073 188h2v2h-2zM1067 188h2v2h-2zM1062 188h2v2h-2zM1056 188h2v2h-2zM1051 188h2v2h-2zM1045 188h2v2h-2zM1040 188h2v2h-2zM1034 188h2v2h-2zM1029 188h2v2h-2zM1023 188h2v2h-2zM1018 188h2v2h-2zM1012 188h2v2h-2zM1007 188h2v2h-2zM1002 188h2v2h-2z" fill="#000000"/>
<text transform="matrix(1 0.0005 0 1 0 -0.4492)" x="898.40" y="220.60" font-size="18.7" letter-spacing="-0.934" fill="#58595b" stroke="#58595b">De stoeltemperatuur van de</text>
<text transform="matrix(1 0.0005 0 1 0 -0.4492)" x="898.40" y="241.00" font-size="18.7" letter-spacing="-0.906" fill="#58595b" stroke="#58595b">bestuurder en de voorste</text>
<text transform="matrix(1 0.0005 0 1 0 -0.4492)" x="898.40" y="261.30" font-size="18.7" letter-spacing="-0.923" fill="#58595b" stroke="#58595b">passagier verstellen</text>
<text transform="matrix(1 0.0005 0 1 0 -0.4492)" x="898.40" y="281.60" font-size="18.7" letter-spacing="-0.854" fill="#58595b" stroke="#58595b">(individuele bediening)</text>
<text transform="matrix(1 0.0005 0 1 0 -0.5714)" x="1142.80" y="281.60" font-size="18.7" letter-spacing="-1.667" fill="#58595b" stroke="#58595b">3-82</text>
<path d="M1133 274h2v2h-2zM1128 274h2v2h-2zM1122 274h2v2h-2zM1117 274h2v2h-2zM1111 274h2v2h-2zM1106 274h2v2h-2zM1100 274h2v2h-2zM1095 274h2v2h-2zM1089 274h2v2h-2zM1084 274h2v2h-2zM1078 274h2v2h-2zM1073 274h2v2h-2z" fill="#58595b"/>
<text transform="matrix(1 0.0005 0 1 0 -0.4492)" x="898.40" y="307.10" font-size="18.7" letter-spacing="-0.903" fill="#58595b" stroke="#58595b">Synchroniseren op basis van de</text>
<text transform="matrix(1 0.0005 0 1 0 -0.4492)" x="898.40" y="327.40" font-size="18.7" letter-spacing="-0.869" fill="#58595b" stroke="#58595b">ingestelde temperatuur van de</text>
<text transform="matrix(1 0.0005 0 1 0 -0.4492)" x="898.40" y="347.60" font-size="18.7" letter-spacing="-0.875" fill="#58595b" stroke="#58595b">bestuurdersstoel (SYNC)</text>
<text transform="matrix(1 0.0005 0 1 0 -0.5714)" x="1142.80" y="347.60" font-size="18.7" letter-spacing="-1.667" fill="#58595b" stroke="#58595b">3-82</text>
<path d="M1133 340h2v2h-2zM1128 340h2v2h-2zM1122 340h2v2h-2zM1117 340h2v2h-2zM1111 340h2v2h-2zM1106 340h2v2h-2zM1100 340h2v2h-2zM1095 340h2v2h-2zM1089 340h2v2h-2z" fill="#58595b"/>
<text transform="matrix(1 0.0005 0 1 0 -0.4405)" x="881.00" y="371.80" font-size="18.7" letter-spacing="-1.009" fill="#000000" stroke="#000000">Automatische modus</text>
<text transform="matrix(1 0.0005 0 1 0 -0.5714)" x="1142.80" y="371.80" font-size="18.7" letter-spacing="-1.667" fill="#000000" stroke="#000000">3-83</text>
<path d="M1133 364h2v2h-2zM1128 364h2v2h-2zM1122 364h2v2h-2zM1117 364h2v2h-2zM1111 364h2v2h-2zM1106 364h2v2h-2zM1100 364h2v2h-2zM1095 364h2v2h-2zM1089 364h2v2h-2zM1084 364h2v2h-2zM1078 364h2v2h-2zM1073 364h2v2h-2zM1067 364h2v2h-2zM1062 364h2v2h-2zM1056 364h2v2h-2zM1051 364h2v2h-2zM1045 364h2v2h-2z" fill="#000000"/>
<text transform="matrix(1 0.0005 0 1 0 -0.4402)" x="880.40" y="394.85" font-size="18.7" letter-spacing="-1.002" fill="#000000" stroke="#000000">Handmatige modus</text>
<text transform="matrix(1 0.0005 0 1 0 -0.5714)" x="1142.80" y="394.85" font-size="18.7" letter-spacing="-1.667" fill="#000000" stroke="#000000">3-83</text>
<path d="M1133 388h2v2h-2zM1128 388h2v2h-2zM1122 388h2v2h-2zM1117 388h2v2h-2zM1111 388h2v2h-2zM1106 388h2v2h-2zM1100 388h2v2h-2zM1095 388h2v2h-2zM1089 388h2v2h-2zM1084 388h2v2h-2zM1078 388h2v2h-2zM1073 388h2v2h-2zM1067 388h2v2h-2zM1062 388h2v2h-2zM1056 388h2v2h-2zM1051 388h2v2h-2zM1045 388h2v2h-2zM1040 388h2v2h-2zM1034 388h2v2h-2z" fill="#000000"/>
<text transform="matrix(1 0.0005 0 1 0 -0.4402)" x="880.40" y="418.05" font-size="18.7" letter-spacing="-0.896" fill="#000000" stroke="#000000">De luchtverdeling selecteren</text>
<text transform="matrix(1 0.0005 0 1 0 -0.5714)" x="1142.80" y="418.05" font-size="18.7" letter-spacing="-1.667" fill="#000000" stroke="#000000">3-84</text>
<path d="M1133 411h2v2h-2zM1128 411h2v2h-2zM1122 411h2v2h-2zM1117 411h2v2h-2zM1111 411h2v2h-2zM1106 411h2v2h-2zM1100 411h2v2h-2z" fill="#000000"/>
<text transform="matrix(1 0.0005 0 1 0 -0.4402)" x="880.40" y="442.15" font-size="18.7" letter-spacing="-0.918" fill="#000000" stroke="#000000">De ruitverwarming bedienen</text>
<text transform="matrix(1 0.0005 0 1 0 -0.5714)" x="1142.80" y="442.15" font-size="18.7" letter-spacing="-1.667" fill="#000000" stroke="#000000">3-84</text>
<path d="M1133 435h2v2h-2zM1128 435h2v2h-2zM1122 435h2v2h-2zM1117 435h2v2h-2zM1111 435h2v2h-2zM1106 435h2v2h-2zM1100 435h2v2h-2zM1095 435h2v2h-2z" fill="#000000"/>
<text transform="matrix(1 0.0005 0 1 0 -0.4402)" x="880.40" y="464.75" font-size="18.7" letter-spacing="-0.915" fill="#000000" stroke="#000000">De ruiten ontwasemen</text>
<text transform="matrix(1 0.0005 0 1 0 -0.5714)" x="1142.80" y="464.75" font-size="18.7" letter-spacing="-1.667" fill="#000000" stroke="#000000">3-85</text>
<path d="M1133 457h2v2h-2zM1128 457h2v2h-2zM1122 457h2v2h-2zM1117 457h2v2h-2zM1111 457h2v2h-2zM1106 457h2v2h-2zM1100 457h2v2h-2zM1095 457h2v2h-2zM1089 457h2v2h-2zM1084 457h2v2h-2zM1078 457h2v2h-2zM1073 457h2v2h-2zM1067 457h2v2h-2zM1062 457h2v2h-2zM1056 457h2v2h-2z" fill="#000000"/>
<text transform="matrix(1 0.0005 0 1 0 -0.4405)" x="881.00" y="487.95" font-size="18.7" letter-spacing="-1.014" fill="#000000" stroke="#000000">Automatisch</text>
<text transform="matrix(1 0.0005 0 1 0 -0.4402)" x="880.40" y="508.25" font-size="18.7" letter-spacing="-0.931" fill="#000000" stroke="#000000">ontwasemingssysteem</text>
<text transform="matrix(1 0.0005 0 1 0 -0.5714)" x="1142.80" y="508.25" font-size="18.7" letter-spacing="-1.667" fill="#000000" stroke="#000000">3-86</text>
<path d="M1133 501h2v2h-2zM1128 501h2v2h-2zM1122 501h2v2h-2zM1117 501h2v2h-2zM1111 501h2v2h-2zM1106 501h2v2h-2zM1100 501h2v2h-2zM1095 501h2v2h-2zM1089 501h2v2h-2zM1084 501h2v2h-2zM1078 501h2v2h-2zM1073 501h2v2h-2zM1067 501h2v2h-2zM1062 501h2v2h-2zM1056 501h2v2h-2z" fill="#000000"/>
<text transform="matrix(1 0.0005 0 1 0 -0.4492)" x="898.40" y="533.55" font-size="18.7" letter-spacing="-0.936" fill="#58595b" stroke="#58595b">Het automatisch ontwasemings-</text>
<text transform="matrix(1 0.0005 0 1 0 -0.4492)" x="898.40" y="553.85" font-size="18.7" letter-spacing="-0.916" fill="#58595b" stroke="#58595b">systeem in-/uitschakelen</text>
<text transform="matrix(1 0.0005 0 1 0 -0.5714)" x="1142.80" y="553.85" font-size="18.7" letter-spacing="-1.667" fill="#58595b" stroke="#58595b">3-86</text>
<path d="M1133 547h2v2h-2zM1128 547h2v2h-2zM1122 547h2v2h-2zM1117 547h2v2h-2zM1111 547h2v2h-2zM1106 547h2v2h-2zM1100 547h2v2h-2zM1095 547h2v2h-2zM1089 547h2v2h-2z" fill="#58595b"/>
<text transform="matrix(1 0.0005 0 1 0 -0.4492)" x="898.40" y="579.35" font-size="18.7" letter-spacing="-0.909" fill="#58595b" stroke="#58595b">Werkingsniveaus van het</text>
<text transform="matrix(1 0.0005 0 1 0 -0.4492)" x="898.40" y="599.35" font-size="18.7" letter-spacing="-1.074" fill="#58595b" stroke="#58595b">automatisch ontwasemings-</text>
<text transform="matrix(1 0.0005 0 1 0 -0.4492)" x="898.40" y="619.05" font-size="18.7" letter-spacing="-1.110" fill="#58595b" stroke="#58595b">systeem</text>
<text transform="matrix(1 0.0005 0 1 0 -0.5714)" x="1142.80" y="619.05" font-size="18.7" letter-spacing="-1.667" fill="#58595b" stroke="#58595b">3-86</text>
<path d="M1133 612h2v2h-2zM1128 612h2v2h-2zM1122 612h2v2h-2zM1117 612h2v2h-2zM1111 612h2v2h-2zM1106 612h2v2h-2zM1100 612h2v2h-2zM1095 612h2v2h-2zM1089 612h2v2h-2zM1084 612h2v2h-2zM1078 612h2v2h-2zM1073 612h2v2h-2zM1067 612h2v2h-2zM1062 612h2v2h-2zM1056 612h2v2h-2zM1051 612h2v2h-2zM1045 612h2v2h-2zM1040 612h2v2h-2zM1034 612h2v2h-2zM1029 612h2v2h-2zM1023 612h2v2h-2zM1018 612h2v2h-2zM1012 612h2v2h-2zM1007 612h2v2h-2zM1002 612h2v2h-2zM996 612h2v2h-2zM991 612h2v2h-2zM985 612h2v2h-2zM980 612h2v2h-2zM974 612h2v2h-2zM969 612h2v2h-2z" fill="#58595b"/>
<text transform="matrix(1 0.0005 0 1 0 -0.4402)" x="880.40" y="643.65" font-size="18.7" letter-spacing="-0.914" fill="#000000" stroke="#000000">Schakelaar verwarmingsmodus</text>
<text transform="matrix(1 0.0005 0 1 0 -0.5714)" x="1142.80" y="643.65" font-size="18.7" letter-spacing="-1.667" fill="#000000" stroke="#000000">3-86</text>
<path d="M1133 636h2v2h-2zM1128 636h2v2h-2zM1122 636h2v2h-2z" fill="#000000"/>
<text transform="matrix(1 0.0005 0 1 0 -0.4402)" x="880.40" y="666.95" font-size="18.7" letter-spacing="-0.873" fill="#000000" stroke="#000000">Zonlichtsensor</text>
<text transform="matrix(1 0.0005 0 1 0 -0.5714)" x="1142.80" y="666.95" font-size="18.7" letter-spacing="-1.667" fill="#000000" stroke="#000000">3-87</text>
<path d="M1133 660h2v2h-2zM1128 660h2v2h-2zM1122 660h2v2h-2zM1117 660h2v2h-2zM1111 660h2v2h-2zM1106 660h2v2h-2zM1100 660h2v2h-2zM1095 660h2v2h-2zM1089 660h2v2h-2zM1084 660h2v2h-2zM1078 660h2v2h-2zM1073 660h2v2h-2zM1067 660h2v2h-2zM1062 660h2v2h-2zM1056 660h2v2h-2zM1051 660h2v2h-2zM1045 660h2v2h-2zM1040 660h2v2h-2zM1034 660h2v2h-2zM1029 660h2v2h-2zM1023 660h2v2h-2zM1018 660h2v2h-2zM1012 660h2v2h-2zM1007 660h2v2h-2zM1002 660h2v2h-2zM996 660h2v2h-2z" fill="#000000"/>
<text transform="matrix(1 0.0005 0 1 0 -0.4254)" x="850.90" y="695.65" font-size="20.1" letter-spacing="-1.269" fill="#000000" stroke="#000000" font-weight="bold">Stuurwiel</text>
<text transform="matrix(1 0.0005 0 1 0 -0.5704)" x="1140.75" y="695.65" font-size="20.1" letter-spacing="-1.967" fill="#000000" stroke="#000000" font-weight="bold">3-88</text>
<path d="M1131 687h2.7v3h-2.7zM1125 687h2.7v3h-2.7zM1119 687h2.7v3h-2.7zM1113.5 687h2.7v3h-2.7zM1107.5 687h2.7v3h-2.7zM1102 687h2.7v3h-2.7zM1096 687h2.7v3h-2.7zM1090.5 687h2.7v3h-2.7zM1084.5 687h2.7v3h-2.7zM1078.5 687h2.7v3h-2.7zM1073 687h2.7v3h-2.7zM1067 687h2.7v3h-2.7zM1061.5 687h2.7v3h-2.7zM1055.5 687h2.7v3h-2.7zM1050 687h2.7v3h-2.7zM1044 687h2.7v3h-2.7zM1038.5 687h2.7v3h-2.7zM1032.5 687h2.7v3h-2.7zM1026.5 687h2.7v3h-2.7zM1021 687h2.7v3h-2.7zM1015 687h2.7v3h-2.7zM1009.5 687h2.7v3h-2.7zM1003.5 687h2.7v3h-2.7zM998 687h2.7v3h-2.7zM992 687h2.7v3h-2.7zM986 687h2.7v3h-2.7zM980.5 687h2.7v3h-2.7zM974.5 687h2.7v3h-2.7zM969 687h2.7v3h-2.7zM963 687h2.7v3h-2.7zM957.5 687h2.7v3h-2.7zM951.5 687h2.7v3h-2.7zM946 687h2.7v3h-2.7zM940 687h2.7v3h-2.7zM934 687h2.7v3h-2.7z" fill="#000000"/>
<text transform="matrix(1 0.0005 0 1 0 -0.4316)" x="863.20" y="723.45" font-size="18.7" letter-spacing="-0.872" fill="#000000" stroke="#000000">De hoogte/lengte van het stuurwiel</text>
<text transform="matrix(1 0.0005 0 1 0 -0.4316)" x="863.20" y="742.95" font-size="18.7" letter-spacing="-0.948" fill="#000000" stroke="#000000">verstellen</text>
<text transform="matrix(1 0.0005 0 1 0 -0.5714)" x="1142.80" y="742.95" font-size="18.7" letter-spacing="-1.667" fill="#000000" stroke="#000000">3-88</text>
<path d="M1133 736h2v2h-2zM1128 736h2v2h-2zM1122 736h2v2h-2zM1117 736h2v2h-2zM1111 736h2v2h-2zM1106 736h2v2h-2zM1100 736h2v2h-2zM1095 736h2v2h-2zM1089 736h2v2h-2zM1084 736h2v2h-2zM1078 736h2v2h-2zM1073 736h2v2h-2zM1067 736h2v2h-2zM1062 736h2v2h-2zM1056 736h2v2h-2zM1051 736h2v2h-2zM1045 736h2v2h-2zM1040 736h2v2h-2zM1034 736h2v2h-2zM1029 736h2v2h-2zM1023 736h2v2h-2zM1018 736h2v2h-2zM1012 736h2v2h-2zM1007 736h2v2h-2zM1002 736h2v2h-2zM996 736h2v2h-2zM991 736h2v2h-2zM985 736h2v2h-2zM980 736h2v2h-2zM974 736h2v2h-2zM969 736h2v2h-2zM963 736h2v2h-2zM958 736h2v2h-2zM952 736h2v2h-2zM947 736h2v2h-2zM941 736h2v2h-2z" fill="#000000"/>
<text transform="matrix(1 0.0005 0 1 0 -0.4316)" x="863.20" y="769.05" font-size="18.7" letter-spacing="-0.975" fill="#000000" stroke="#000000">Stuurwielverwarming*</text>
<text transform="matrix(1 0.0005 0 1 0 -0.5714)" x="1142.80" y="769.05" font-size="18.7" letter-spacing="-1.667" fill="#000000" stroke="#000000">3-88</text>
<path d="M1133 762h2v2h-2zM1128 762h2v2h-2zM1122 762h2v2h-2zM1117 762h2v2h-2zM1111 762h2v2h-2zM1106 762h2v2h-2zM1100 762h2v2h-2zM1095 762h2v2h-2zM1089 762h2v2h-2zM1084 762h2v2h-2zM1078 762h2v2h-2zM1073 762h2v2h-2zM1067 762h2v2h-2zM1062 762h2v2h-2zM1056 762h2v2h-2zM1051 762h2v2h-2zM1045 762h2v2h-2zM1040 762h2v2h-2zM1034 762h2v2h-2zM1029 762h2v2h-2z" fill="#000000"/>
<text transform="matrix(1 0.0005 0 1 0 -0.4316)" x="863.20" y="795.80" font-size="18.7" letter-spacing="-1.250" fill="#000000" stroke="#000000">Claxon</text>
<text transform="matrix(1 0.0005 0 1 0 -0.5714)" x="1142.80" y="795.80" font-size="18.7" letter-spacing="-1.667" fill="#000000" stroke="#000000">3-88</text>
<path d="M1133 788h2v2h-2zM1128 788h2v2h-2zM1122 788h2v2h-2zM1117 788h2v2h-2zM1111 788h2v2h-2zM1106 788h2v2h-2zM1100 788h2v2h-2zM1095 788h2v2h-2zM1089 788h2v2h-2zM1084 788h2v2h-2zM1078 788h2v2h-2zM1073 788h2v2h-2zM1067 788h2v2h-2zM1062 788h2v2h-2zM1056 788h2v2h-2zM1051 788h2v2h-2zM1045 788h2v2h-2zM1040 788h2v2h-2zM1034 788h2v2h-2zM1029 788h2v2h-2zM1023 788h2v2h-2zM1018 788h2v2h-2zM1012 788h2v2h-2zM1007 788h2v2h-2zM1002 788h2v2h-2zM996 788h2v2h-2zM991 788h2v2h-2zM985 788h2v2h-2zM980 788h2v2h-2zM974 788h2v2h-2zM969 788h2v2h-2zM963 788h2v2h-2zM958 788h2v2h-2zM952 788h2v2h-2zM947 788h2v2h-2zM941 788h2v2h-2zM936 788h2v2h-2zM930 788h2v2h-2zM925 788h2v2h-2zM919 788h2v2h-2z" fill="#000000"/>
<rect x="71" y="828.55" width="1110.7" height="1.4" fill="#808080"/>
<text word-spacing="2.4" transform="matrix(1 0.0005 0 1 0 -0.4286)" x="857.20" y="852.10" font-size="19.0" letter-spacing="-1.187" fill="#6d6e71" stroke="#6d6e71" font-weight="bold">Gedetailleerde Inhoudsopgave</text>
<text transform="matrix(1 0.0005 0 1 0 -0.5776)" x="1155.14" y="852.10" font-size="19.0" letter-spacing="-1.100" fill="#000000" stroke="#000000" font-weight="bold">0-9</text>
</svg>
</body></html>
